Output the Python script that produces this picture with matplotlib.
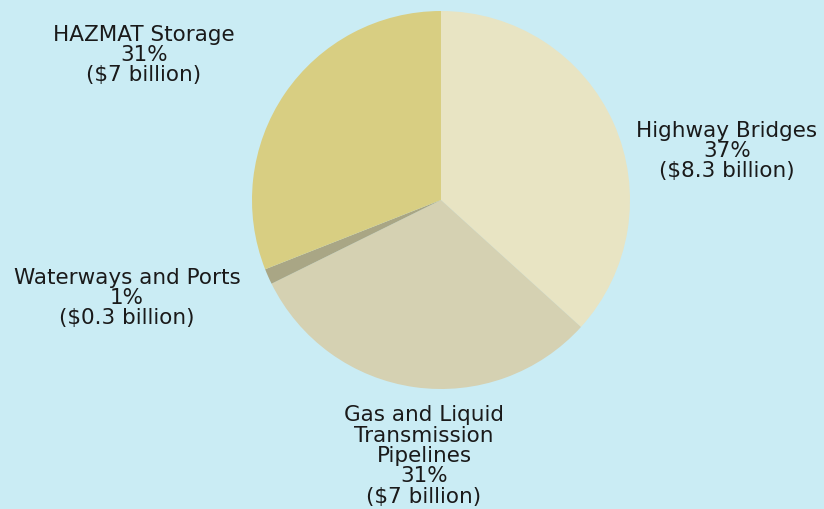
import matplotlib
matplotlib.use("Agg")
import matplotlib.pyplot as plt

# ── Data ─────────────────────────────────────────────────────────────────────
categories = ["Highway Bridges", "Gas and Liquid\nTransmission\nPipelines",
              "Waterways and Ports", "HAZMAT Storage"]
billions   = [8.3, 7.0, 0.3, 7.0]
pct_labels = ["37%", "31%", "1%", "31%"]
amt_labels = ["($8.3 billion)", "($7 billion)", "($0.3 billion)", "($7 billion)"]
colors     = ["#E8E4C3", "#D5D1B2", "#A9A685", "#D8CE82"]

BG = "#CAECF4"
W, H = 824, 509
CX, CY, R = 441, 200, 189          # pie centre / radius in pixels (y from top)

# label centres in pixels (x, y from top)
label_pos = [(727, 151), (424, 456), (127, 298), (144, 55)]

fig = plt.figure(figsize=(W / 100, H / 100), dpi=100, facecolor=BG)
ax = fig.add_axes([0, 0, 1, 1])
ax.set_facecolor(BG)

ax.pie(billions, colors=colors, startangle=90, counterclock=False,
       radius=1.0, wedgeprops=dict(linewidth=0))

ax.set_xlim(-CX / R, (W - CX) / R)
ax.set_ylim(-(H - CY) / R, CY / R)
ax.set_aspect("equal")
ax.axis("off")

for cat, p, a, (px, py) in zip(categories, pct_labels, amt_labels, label_pos):
    ax.text((px - CX) / R, (CY - py) / R, f"{cat}\n{p}\n{a}",
            ha="center", va="center", fontsize=15.5, color="#1a1a1a",
            linespacing=1.03)

fig.savefig("out.png", dpi=100, facecolor=BG)
